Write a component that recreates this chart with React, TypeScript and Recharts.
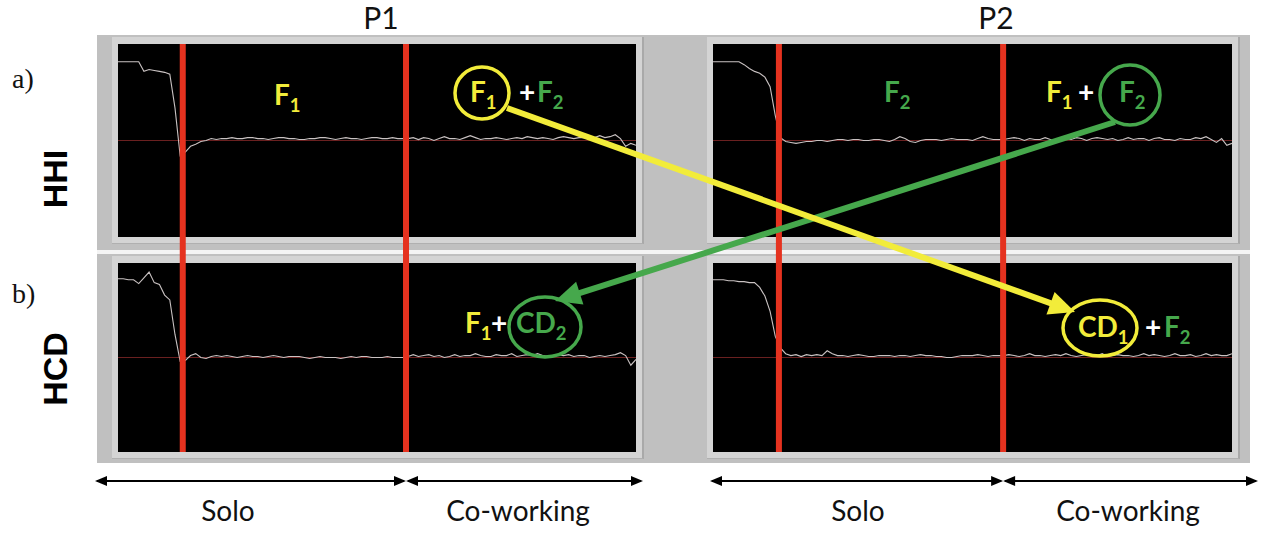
import { LineChart, Line, XAxis, YAxis, ReferenceLine } from 'recharts';

// Grip-force traces for two partners (P1, P2) in the HHI and HCD conditions.
// Time runs 0..100 per column; each trace is sampled once per time unit and
// expressed relative to the holding baseline (0).

const TIME_DOMAIN: [number, number] = [0, 100];

// phase boundaries: end of release transient (start of solo), start of co-working
const P1_PHASES = [12.5, 55.6];
const P2_PHASES = [12.7, 55.9];

const HHI_P1 = [
  8.2, 8.2, 8.2, 8.2, 8.2, 7.2, 7.4, 7.3, 7.2, 7.1, 6.9,
  3.4, -1.6, -1.2, -0.6, -0.4, -0.1, 0.0, 0.2, 0.1,
  0.2, 0.2, 0.3, 0.2, 0.2, 0.3, 0.3, 0.2, 0.2, 0.1, 0.2, 0.3, 0.3, 0.2, 0.2, 0.1, 0.1, 0.2,
  0.2, 0.3, 0.3, 0.2, 0.1, 0.2, 0.3, 0.2, 0.2, 0.1, 0.2, 0.3, 0.3, 0.2, 0.2, 0.3, 0.2, 0.2,
  0.2, 0.3, 0.1, 0.3, 0.2, 0.0, 0.2, 0.4, 0.2, 0.2, 0.1, 0.3, 0.5, 0.3, 0.1, 0.2, 0.2, 0.3,
  0.2, 0.1, 0.2, 0.3, 0.2, 0.4, 0.3, 0.2, 0.3, 0.2, 0.1, 0.3, 0.4, 0.3, 0.2, 0.3, 0.3, 0.2,
  0.3, 0.5, 0.3, 0.4, 0.6, 0.2, -0.6, -0.3, -0.5,
];

const HHI_P2 = [
  8.2, 8.2, 8.2, 8.2, 8.2, 8.2, 7.9, 7.5, 7.2, 7.0, 6.6, 5.6, 2.6, 0.3, -0.1, -0.2, -0.3, -0.2, -0.1,
  -0.1, 0.0, 0.0, -0.1, 0.0, 0.1, 0.1, 0.0, 0.1, 0.1, 0.0, 0.0, 0.1, 0.1, 0.0, -0.1, 0.1, 0.4,
  0.2, -0.1, -0.2, 0.0, 0.1, 0.1, 0.1, 0.0, 0.1, 0.2, 0.1, 0.1, 0.1, 0.0, 0.2, 0.4, 0.2, 0.1, 0.1,
  0.1, 0.2, 0.3, 0.2, 0.0, 0.2, 0.1, 0.1, 0.3, 0.1, -0.1, 0.1, 0.2, 0.1, 0.3, 0.2, 0.0, 0.2,
  0.3, 0.2, 0.1, 0.2, 0.0, 0.1, 0.3, 0.1, 0.2, 0.2, 0.0, 0.2, 0.3, 0.1, 0.1, 0.0, 0.2, 0.1,
  0.1, 0.3, 0.2, 0.4, 0.1, -0.2, 0.2, -0.5, -0.3,
];

const HCD_P1 = [
  8.2, 8.2, 8.1, 8.1, 7.7, 8.3, 8.9, 7.8, 7.6, 6.5, 6.0, 2.4, -0.4, -0.3, 0.2, 0.4, 0.0, -0.1, 0.1, 0.2,
  0.1, 0.2, 0.1, 0.0, 0.1, 0.2, 0.1, 0.1, 0.0, 0.1, 0.2, 0.1, 0.0, 0.1, 0.1, 0.1, 0.0, -0.1,
  0.0, 0.1, 0.0, 0.0, 0.0, -0.1, 0.0, 0.1, 0.0, 0.1, 0.1, 0.0, 0.0, 0.0, 0.1, 0.0, 0.0, 0.0,
  0.1, 0.3, 0.1, 0.2, 0.3, 0.1, 0.2, 0.0, 0.1, 0.3, 0.1, 0.2, 0.2, 0.4, 0.2, 0.1, 0.1, 0.3,
  0.2, 0.2, 0.4, 0.1, 0.2, 0.3, 0.2, 0.4, 0.2, 0.1, 0.2, 0.3, 0.2, 0.3, 0.1, 0.2, 0.2, 0.0,
  0.1, 0.2, 0.1, 0.2, 0.3, 0.5, 0.2, -0.8, -0.2,
];

const HCD_P2 = [
  8.1, 8.1, 8.1, 8.0, 8.0, 7.9, 7.9, 7.8, 7.8, 7.3, 6.4, 4.8, 2.2, 1.0, 0.4, 0.2, 0.3, 0.1, 0.3,
  0.2, 0.3, 0.2, 0.7, 0.4, 0.2, 0.2, 0.1, 0.2, 0.3, 0.2, 0.1, 0.1, 0.2, 0.2, 0.2, 0.1, 0.2,
  0.2, 0.1, 0.2, 0.3, 0.2, 0.2, 0.1, 0.1, 0.0, 0.0, 0.1, 0.2, 0.2, 0.2, 0.3, 0.2, 0.1, 0.2, 0.2,
  0.2, 0.3, 0.2, 0.1, 0.2, 0.4, 0.2, 0.2, 0.1, 0.2, 0.3, 0.2, 0.4, 0.2, 0.1, 0.2, 0.3, 0.2,
  0.2, 0.4, 0.1, 0.2, 0.3, 0.2, 0.2, 0.1, 0.2, 0.4, 0.2, 0.3, 0.2, 0.1, 0.2, 0.4, 0.2, 0.2,
  0.3, 0.1, 0.2, 0.4, 0.2, 0.3, 0.2, 0.2, 0.4,
];

const COLUMN_TITLES = ['P1', 'P2'];
const ROW_TAGS = ['a)', 'b)'];
const ROW_NAMES = ['HHI', 'HCD'];
const PHASE_NAMES = ['Solo', 'Co-working'];

// layout (px)
const W = 1261;
const H = 533;
const COLS = [
  { left: 118, width: 518 },
  { left: 713, width: 519 },
];
const ROW_A = { top: 44, bottom: 237 };
const ROW_B = { top: 263, bottom: 452 };
const CHART_H = ROW_B.bottom - ROW_A.top;
const PX_PER_UNIT = 9.6;

const zeroA = (ROW_A.top + ROW_A.bottom) / 2 - ROW_A.top;
const zeroB = (ROW_B.top + ROW_B.bottom) / 2 - ROW_A.top;
const HHI_DOMAIN: [number, number] = [-(CHART_H - zeroA) / PX_PER_UNIT, zeroA / PX_PER_UNIT];
const HCD_DOMAIN: [number, number] = [-(CHART_H - zeroB) / PX_PER_UNIT, zeroB / PX_PER_UNIT];

const YELLOW = '#f2ec3a';
const GREEN = '#46a84c';
const RED = '#e5321f';
const TRACE = '#c9c2c2';
const FRAME = '#c0c0c0';
const BEVEL = '#d4d4d4';

const LABEL_FONT = 'Lato, "Open Sans", sans-serif';

function Column({ left, width, phases, hhi, hcd }: {
  left: number; width: number; phases: number[]; hhi: number[]; hcd: number[];
}) {
  const rows = hhi.map((v, i) => ({ t: i, hhi: v, hcd: hcd[i] }));
  return (
    <div style={{ position: 'absolute', left, top: ROW_A.top, width, height: CHART_H }}>
      <LineChart width={width} height={CHART_H} data={rows} margin={{ top: 0, right: 0, bottom: 0, left: 0 }}>
        <XAxis dataKey="t" type="number" domain={TIME_DOMAIN} allowDataOverflow hide />
        <YAxis yAxisId="hhi" type="number" domain={HHI_DOMAIN} allowDataOverflow hide />
        <YAxis yAxisId="hcd" type="number" domain={HCD_DOMAIN} allowDataOverflow hide />
        <ReferenceLine yAxisId="hhi" y={0} stroke="#6a2020" strokeWidth={1} />
        <ReferenceLine yAxisId="hcd" y={0} stroke="#6a2020" strokeWidth={1} />
        <Line yAxisId="hhi" dataKey="hhi" type="linear" stroke={TRACE} strokeWidth={1.1} dot={false} isAnimationActive={false} />
        <Line yAxisId="hcd" dataKey="hcd" type="linear" stroke={TRACE} strokeWidth={1.1} dot={false} isAnimationActive={false} />
        {phases.map((p) => (
          <ReferenceLine key={p} yAxisId="hhi" x={p} stroke={RED} strokeWidth={6} />
        ))}
      </LineChart>
    </div>
  );
}

// boundary position in page px, same linear mapping as the chart's x scale
const phaseX = (col: number, t: number) =>
  COLS[col].left + ((t - TIME_DOMAIN[0]) / (TIME_DOMAIN[1] - TIME_DOMAIN[0])) * COLS[col].width;

function Arrow({ x1, y1, x2, y2, color, width, head, headW }: {
  x1: number; y1: number; x2: number; y2: number; color: string; width: number; head: number; headW: number;
}) {
  const dx = x2 - x1;
  const dy = y2 - y1;
  const len = Math.hypot(dx, dy);
  const ux = dx / len;
  const uy = dy / len;
  const bx = x2 - ux * head;
  const by = y2 - uy * head;
  const px = -uy * headW / 2;
  const py = ux * headW / 2;
  return (
    <g>
      <line x1={x1} y1={y1} x2={bx + ux * 2} y2={by + uy * 2} stroke={color} strokeWidth={width} />
      <polygon points={`${x2},${y2} ${bx + px},${by + py} ${bx - px},${by - py}`} fill={color} />
    </g>
  );
}

function Sym({ x, y, main, sub, color, size = 28 }: {
  x: number; y: number; main: string; sub?: string; color: string; size?: number;
}) {
  return (
    <text x={x} y={y} fill={color} fontFamily={LABEL_FONT} fontWeight={700} fontSize={size}>
      {main}
      {sub && <tspan dy={7} fontSize={size * 0.66}>{sub}</tspan>}
    </text>
  );
}

function Panel({ col, row }: { col: number; row: { top: number; bottom: number } }) {
  const c = COLS[col];
  return (
    <>
      <div style={{
        position: 'absolute', left: c.left - 6, top: row.top - 7, width: c.width + 12, height: row.bottom - row.top + 13,
        background: BEVEL, borderRight: '2px solid #a9a9a9', borderBottom: '1px solid #b0b0b0',
      }} />
      <div style={{ position: 'absolute', left: c.left, top: row.top, width: c.width, height: row.bottom - row.top, background: '#000' }} />
    </>
  );
}

export default function App() {
  const bottomY = 481;
  return (
    <div style={{ position: 'absolute', left: 0, top: 0, width: W, height: H, background: '#fff', overflow: 'hidden' }}>
      {/* instrument frame */}
      <div style={{ position: 'absolute', left: 97, top: 35, width: 1153, height: 428, background: FRAME }} />
      <div style={{ position: 'absolute', left: 97, top: 250, width: 1153, height: 4, background: '#f4f4f4' }} />
      {[0, 1].map((col) => (
        <div key={col}>
          <Panel col={col} row={ROW_A} />
          <Panel col={col} row={ROW_B} />
        </div>
      ))}

      <Column left={COLS[0].left} width={COLS[0].width} phases={P1_PHASES} hhi={HHI_P1} hcd={HCD_P1} />
      <Column left={COLS[1].left} width={COLS[1].width} phases={P2_PHASES} hhi={HHI_P2} hcd={HCD_P2} />

      <svg width={W} height={H} style={{ position: 'absolute', left: 0, top: 0, pointerEvents: 'none' }}>
        {/* column titles */}
        <text x={381} y={29} textAnchor="middle" fontFamily={LABEL_FONT} fontSize={30} fill="#111">{COLUMN_TITLES[0]}</text>
        <text x={996} y={29} textAnchor="middle" fontFamily={LABEL_FONT} fontSize={30} fill="#111">{COLUMN_TITLES[1]}</text>

        {/* row tags and names */}
        <text x={12} y={88} fontFamily='"Liberation Serif", serif' fontSize={28} fill="#111">{ROW_TAGS[0]}</text>
        <text x={12} y={303} fontFamily='"Liberation Serif", serif' fontSize={28} fill="#111">{ROW_TAGS[1]}</text>
        <text x={55} y={179} transform="rotate(-90 55 179)" textAnchor="middle" dominantBaseline="central"
          fontFamily='"Liberation Sans", Arial, sans-serif' fontWeight={700} fontSize={34} fill="#000">{ROW_NAMES[0]}</text>
        <text x={55} y={369} transform="rotate(-90 55 369)" textAnchor="middle" dominantBaseline="central"
          fontFamily='"Liberation Sans", Arial, sans-serif' fontWeight={700} fontSize={34} fill="#000">{ROW_NAMES[1]}</text>

        {/* HHI, P1 */}
        <Sym x={274} y={105} main="F" sub="1" color={YELLOW} />
        <Sym x={470} y={102} main="F" sub="1" color={YELLOW} />
        <Sym x={519} y={102} main="+" color="#fff" />
        <Sym x={537} y={102} main="F" sub="2" color={GREEN} />
        <ellipse cx={482} cy={93} rx={27} ry={26} fill="none" stroke={YELLOW} strokeWidth={3.5} />

        {/* HHI, P2 */}
        <Sym x={884} y={102} main="F" sub="2" color={GREEN} />
        <Sym x={1046} y={102} main="F" sub="1" color={YELLOW} />
        <Sym x={1078} y={102} main="+" color="#fff" />
        <Sym x={1119} y={102} main="F" sub="2" color={GREEN} />
        <ellipse cx={1130} cy={95} rx={30} ry={30} fill="none" stroke={GREEN} strokeWidth={3.5} />

        {/* HCD, P1 */}
        <Sym x={465} y={333} main="F" sub="1" color={YELLOW} />
        <Sym x={491} y={333} main="+" color="#fff" />
        <Sym x={516} y={333} main="CD" sub="2" color={GREEN} />
        <ellipse cx={545} cy={327} rx={36} ry={30} fill="none" stroke={GREEN} strokeWidth={3.5} />

        {/* HCD, P2 */}
        <Sym x={1078} y={337} main="CD" sub="1" color={YELLOW} />
        <ellipse cx={1100} cy={328} rx={37} ry={28} fill="none" stroke={YELLOW} strokeWidth={3.5} />
        <Sym x={1145} y={337} main="+" color="#fff" />
        <Sym x={1164} y={337} main="F" sub="2" color={GREEN} />

        {/* cross-condition links */}
        <Arrow x1={1115} y1={122} x2={555} y2={301} color={GREEN} width={6} head={26} headW={24} />
        <Arrow x1={507} y1={108} x2={1075} y2={312} color={YELLOW} width={6} head={26} headW={24} />

        {/* phase spans */}
        {[0, 1].map((col) => {
          const mid = phaseX(col, (col === 0 ? P1_PHASES : P2_PHASES)[1]);
          const l = col === 0 ? 95 : 710;
          const r = col === 0 ? 643 : 1258;
          return (
            <g key={col}>
              <Arrow x1={mid - 2} y1={bottomY} x2={l} y2={bottomY} color="#000" width={2} head={12} headW={10} />
              <Arrow x1={l + 2} y1={bottomY} x2={mid} y2={bottomY} color="#000" width={2} head={12} headW={10} />
              <Arrow x1={r - 2} y1={bottomY} x2={mid} y2={bottomY} color="#000" width={2} head={12} headW={10} />
              <Arrow x1={mid + 2} y1={bottomY} x2={r} y2={bottomY} color="#000" width={2} head={12} headW={10} />
            </g>
          );
        })}
        <text x={228} y={521} textAnchor="middle" fontFamily={LABEL_FONT} fontSize={28} fill="#111">{PHASE_NAMES[0]}</text>
        <text x={518} y={521} textAnchor="middle" fontFamily={LABEL_FONT} fontSize={28} fill="#111">{PHASE_NAMES[1]}</text>
        <text x={858} y={521} textAnchor="middle" fontFamily={LABEL_FONT} fontSize={28} fill="#111">{PHASE_NAMES[0]}</text>
        <text x={1128} y={521} textAnchor="middle" fontFamily={LABEL_FONT} fontSize={28} fill="#111">{PHASE_NAMES[1]}</text>
      </svg>
    </div>
  );
}
